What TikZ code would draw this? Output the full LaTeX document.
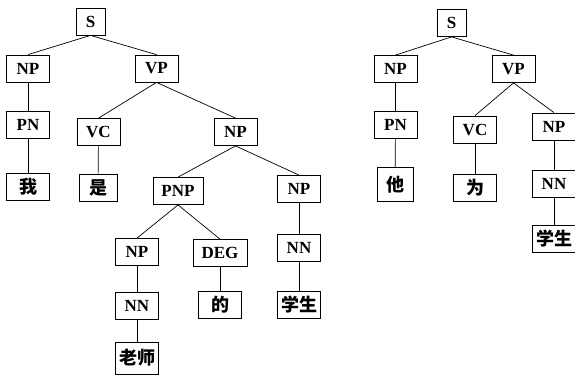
\documentclass[tikz,border=0pt]{standalone}
\usepackage{fontspec}
\setmainfont{Liberation Serif}
\newfontfamily\cjk{Noto Sans CJK SC}
\tikzset{
  tag/.style={draw, line width=0.8pt, fill=white, minimum width=43pt,
    minimum height=27pt, inner xsep=8.5pt, inner ysep=2pt,
    font=\fontsize{17}{17}\selectfont\bfseries},
  word/.style={tag, font=\fontsize{18}{18}\selectfont\cjk\bfseries},
  root/.style={tag, minimum width=29pt, inner xsep=4pt}
}
\begin{document}
\begin{tikzpicture}[x=1pt,y=-1pt]
      \useasboundingbox (0,0) rectangle (575,376);
      % first sentence
      \draw
        (90.5,21.5) node[root] (0){S}
        (28,68.5) node[tag] (1){NP}
        (156.5,68.5) node[tag] (2){VP}
        (28,125) node[tag] (3){PN}
        (98.5,132) node[tag] (4){VC}
        (235.5,132) node[tag] (5){NP}
        (28,186.5) node[word] (6){我}
        (98,188) node[word, minimum width=38pt] (7){是}
        (178,191) node[tag] (8){PNP}
        (299,189) node[tag] (9){NP}
        (137,252) node[tag] (10){NP}
        (220,253) node[tag] (11){DEG}
        (299,248) node[tag] (12){NN}
        (137,306) node[tag] (13){NN}
        (220,305) node[word] (14){的}
        (299,305) node[word, inner xsep=2pt] (15){学生}
        (137,358) node[word, inner xsep=2pt, minimum height=32pt] (16){老师};
      % second sentence
      \draw
        (451.5,23) node[root] (20){S}
        (395.5,69) node[tag] (21){NP}
        (513.5,69) node[tag] (22){VP}
        (395.5,124.5) node[tag] (23){PN}
        (475,129.5) node[tag] (24){VC}
        (554,126.5) node[tag] (25){NP}
        (395,184.5) node[word, minimum width=36pt, minimum height=34pt] (26){他}
        (475,188) node[word] (27){为}
        (554,184) node[tag] (28){NN}
        (554,239) node[word, inner xsep=2pt] (29){学生};
      \begin{scope}[-, line width=0.7pt]
        \draw (0.south) to (1.north);
        \draw (0.south) to (2.north);
        \draw (1) to (3);
        \draw (2.south) to (4.north);
        \draw (2.south) to (5.north);
        \draw (3) to (6);
        \draw (4) to (7);
        \draw (5.south) to (8.north);
        \draw (5.south) to (9.north);
        \draw (8.south) to (10.north);
        \draw (8.south) to (11.north);
        \draw (9) to (12);
        \draw (10) to (13);
        \draw (11) to (14);
        \draw (12) to (15);
        \draw (13) to (16);
        \draw (20.south) to (21.north);
        \draw (20.south) to (22.north);
        \draw (21) to (23);
        \draw (22.south) to (24.north);
        \draw (22.south) to (25.north);
        \draw (23) to (26);
        \draw (24) to (27);
        \draw (25) to (28);
        \draw (28) to (29);
      \end{scope}
    \end{tikzpicture}
\end{document}
